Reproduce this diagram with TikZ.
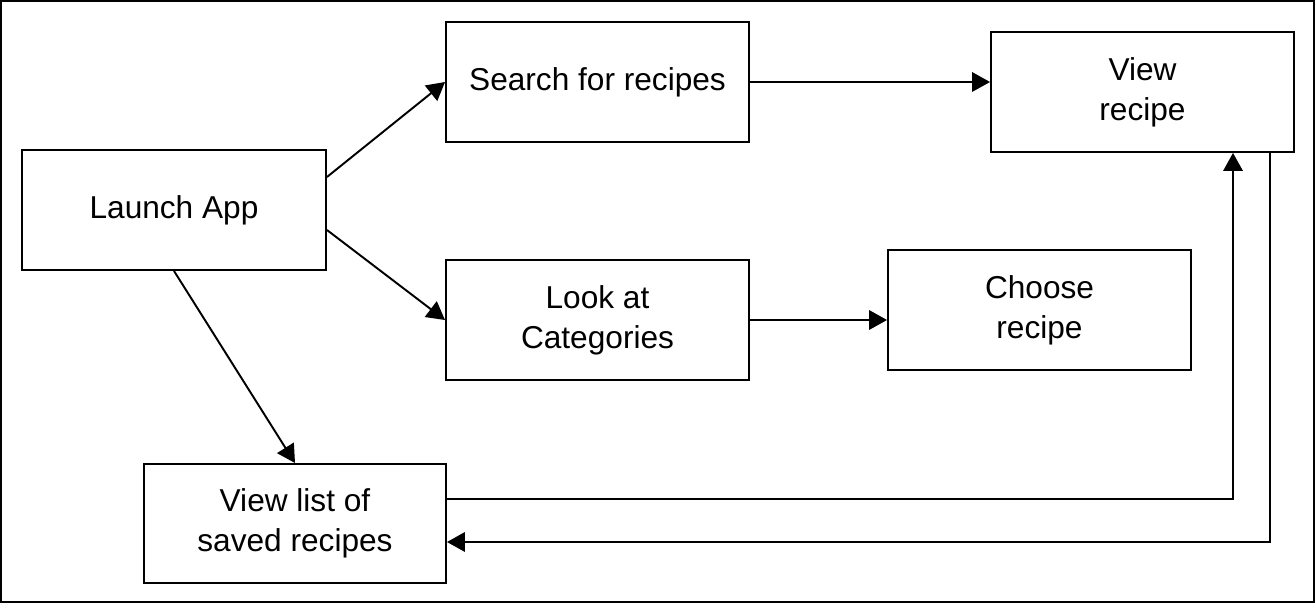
\documentclass[tikz,border=0pt]{standalone}
\usepackage{fontspec}
\setmainfont{Liberation Sans}
\usetikzlibrary{arrows.meta}
\tikzset{
    stepbox/.style={draw,line width=1.1pt,minimum width=6.06cm,minimum height=2.4cm,
        inner sep=0pt,align=center},
}
\begin{document}
\begin{tikzpicture}[>={Triangle[length=3.6mm,width=3.9mm]},line width=1.1pt,
        font=\fontsize{18}{22.7}\selectfont]
            \useasboundingbox (0,0) rectangle (26.3,12.06);
            \draw [line width=1.2pt] (0.02,0.02) rectangle (26.28,12.04);
            \node [stepbox,minimum width=6.08cm] (launch) at (3.48,7.86) {Launch App};
            \node [stepbox] (search) at (11.95,10.42) {Search for recipes};
            \node [stepbox] (view) at (22.85,10.22) {View\\recipe};
            \node [stepbox] (look) at (11.95,5.66) {Look at\\Categories};
            \node [stepbox] (choose) at (20.79,5.86) {Choose\\recipe};
            \node [stepbox,minimum width=6.04cm,minimum height=2.38cm] (list) at (5.9,1.59) {View list of\\saved recipes};
            \draw [->] ([yshift=0.66cm]launch.east) -- (search.west);
            \draw [->] ([yshift=-0.4cm]launch.east) -- (look.west);
            \draw [->] (launch.south) -- (list.north);
            \draw [->] (search.east) -- (search.east -| view.west);
            \draw [->] (look.east) -- (look.east -| choose.west);
            % back and forth between the list and the recipe
            \coordinate (up) at ([xshift=1.81cm]view.south);
            \coordinate (down) at ([xshift=2.55cm]view.south);
            \draw [->] ([yshift=0.49cm]list.east) -| (up);
            \draw [->] (down) |- ([yshift=-0.37cm]list.east);
        \end{tikzpicture}
\end{document}
